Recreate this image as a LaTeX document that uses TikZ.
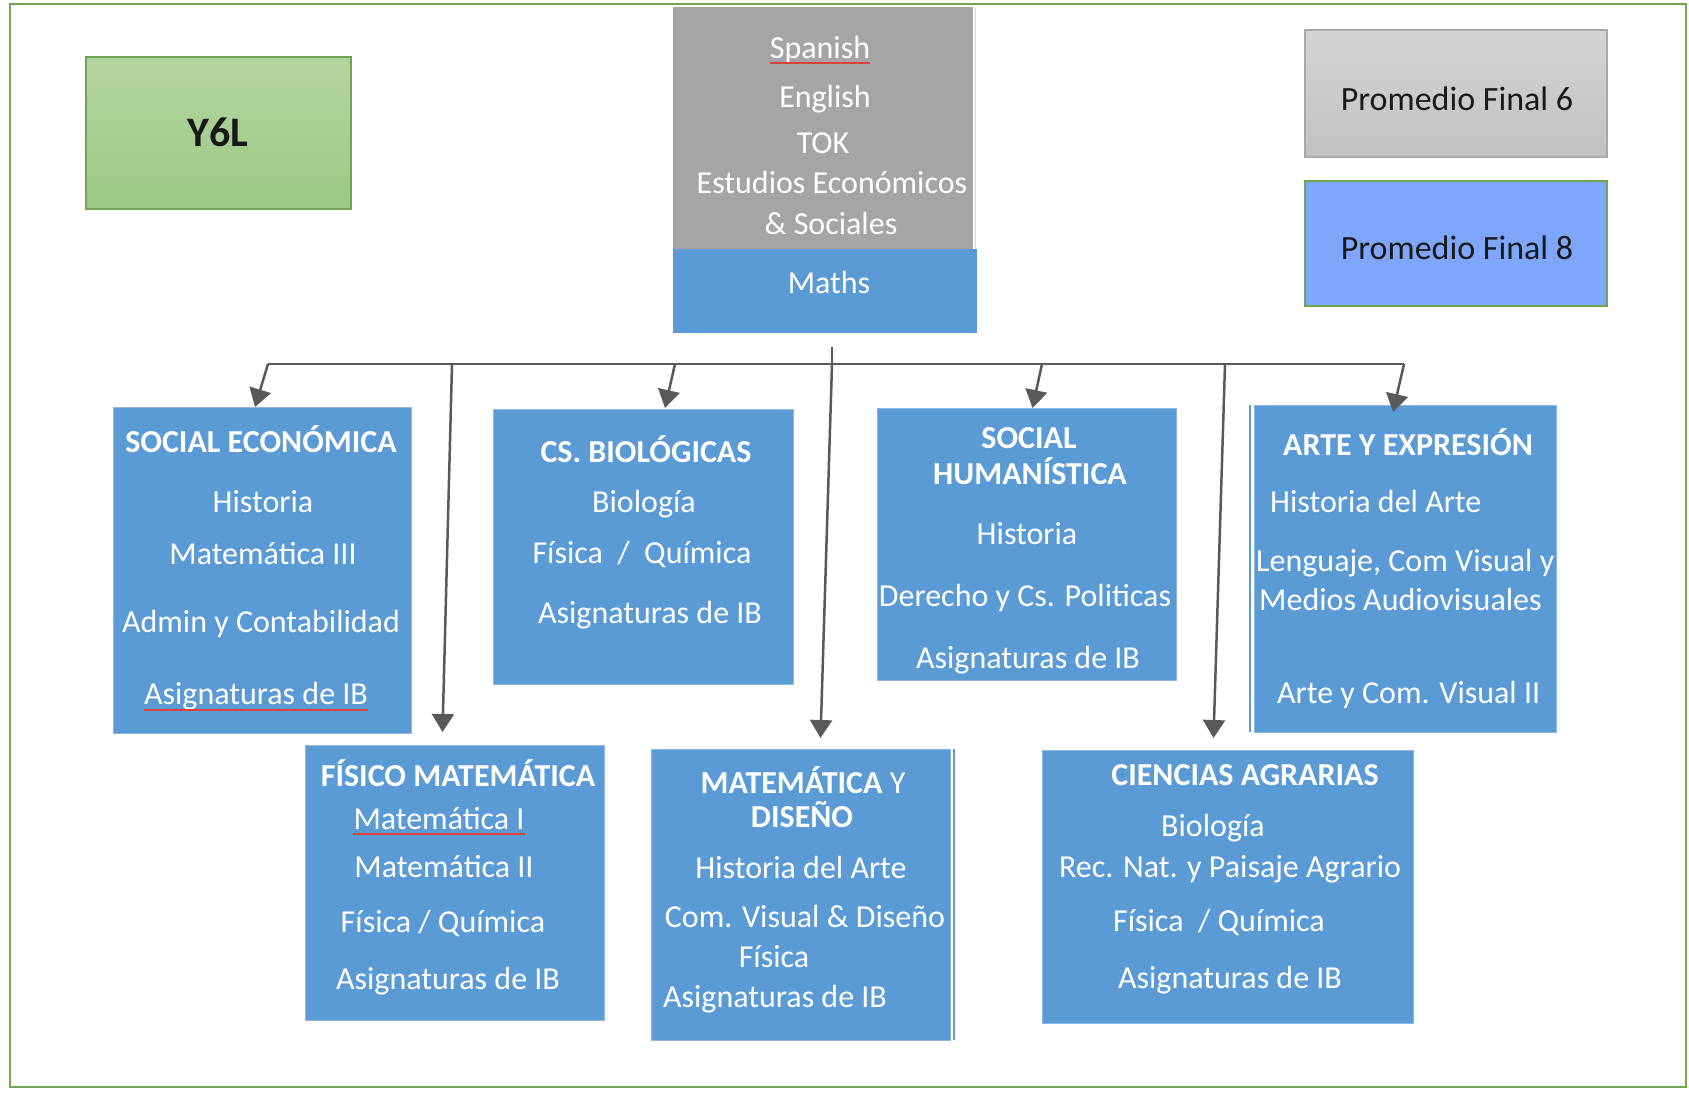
\documentclass[tikz,border=0pt]{standalone}
\usepackage{fontspec}
\setmainfont{Carlito}
\usetikzlibrary{arrows.meta,calc}

\definecolor{boxblue}{HTML}{5B9BD5}
\definecolor{coregrey}{HTML}{A5A5A5}
\definecolor{linegrey}{HTML}{595959}
\definecolor{framegreen}{HTML}{72A552}
\definecolor{avgblue}{HTML}{7EA6FA}
\definecolor{spellred}{HTML}{D9413C}
\definecolor{y6ltop}{HTML}{B4D5A1}
\definecolor{y6lbottom}{HTML}{9BCA82}

\tikzset{
  keybox/.style={rectangle, anchor=north west, inner sep=0pt, outer sep=0pt, line width=1.5pt},
  area/.style={keybox, fill=boxblue, draw=boxblue!70!white, line width=0.8pt},
  txt/.style={text=white, inner sep=0pt, anchor=base, font=\fontsize{32}{38}\selectfont},
  head/.style={txt, font=\fontsize{32}{38}\selectfont\bfseries},
  dark/.style={text=black!90, inner sep=0pt, anchor=base, font=\fontsize{34}{40}\selectfont},
  conn/.style={draw=linegrey, line width=2.5pt},
  arr/.style={conn, -{Triangle[length=18pt,width=22pt]}},
  spell/.style={draw=spellred, line width=1.5pt},
}

\begin{document}
\begin{tikzpicture}[x=1pt, y=-1pt]
\useasboundingbox (0,0) rectangle (1689,1094);

% Frame
\draw[framegreen, line width=2.2pt] (10,4) rectangle (1686,1087);

% Legend and title
\node[keybox, top color=y6ltop, bottom color=y6lbottom,
      draw=framegreen, minimum width=265pt, minimum height=152pt] (y6l) at (86,57) {};
\node[dark, font=\fontsize{42}{48}\selectfont\bfseries] (y6l-t) at (218,147) {Y6L};

\node[keybox, top color=black!17, bottom color=black!24, draw=black!34,
      minimum width=302pt, minimum height=127pt] (p6) at (1305,30) {};
\node[dark] (p6-t) at (1457,111) {Promedio Final 6};
\node[keybox, fill=avgblue, draw=framegreen, minimum width=302pt, minimum height=125pt] (p8) at (1305,181) {};
\node[dark] (p8-t) at (1457,259) {Promedio Final 8};

% Common core
\node[keybox, fill=coregrey, minimum width=300pt, minimum height=242pt] (core) at (673,7) {};
\node[keybox, fill=boxblue, minimum width=304pt, minimum height=84pt] (maths) at (673,249) {};
\draw[black!15, line width=1pt] ([xshift=2pt]core.north east) -- ([xshift=2pt]core.south east);
\foreach \x/\y/\t [count=\i] in {820/59/Spanish, 825/108/English, 823/154/TOK,
    832/194/{Estudios Económicos}, 831/235/{\& Sociales}}
  \node[txt] (core-\i) at (\x,\y) {\t};
\node[txt] (maths-t) at (829,293) {Maths};
\draw[spell] ([yshift=-4pt]core-1.base west) -- ([yshift=-4pt]core-1.base east);

% Areas
\node[area, minimum width=298pt, minimum height=326pt] (se) at (113,407) {};
\node[area, minimum width=300pt, minimum height=275pt] (cb) at (493,409) {};
\node[area, minimum width=299pt, minimum height=272pt] (sh) at (877,408) {};
\node[area, minimum width=302pt, minimum height=327pt] (ae) at (1254,405) {};
\node[area, minimum width=299pt, minimum height=275pt] (fm) at (305,745) {};
\node[area, minimum width=299pt, minimum height=291pt] (md) at (651,749) {};
\node[area, minimum width=371pt, minimum height=273pt] (ca) at (1042,750) {};
\draw[boxblue, line width=1.2pt] ([xshift=-4pt]ae.north west) -- ([xshift=-4pt]ae.south west);
\draw[boxblue, line width=1.2pt] ([xshift=4pt]md.north east) -- ([xshift=4pt]md.south east);

% Social economica
\node[head] (se-0) at (261,452) {SOCIAL ECONÓMICA};
\foreach \x/\y/\t [count=\i] in {263/512/Historia, 263/564/{Matemática III},
    261/632/{Admin y Contabilidad}, 256/704/{Asignaturas de IB}}
  \node[txt] (se-\i) at (\x,\y) {\t};
\draw[spell] ([yshift=-6pt]se-4.base west) -- ([yshift=-6pt]se-4.base east);

% Cs. biologicas
\node[head] (cb-0) at (646,462) {CS. BIOLÓGICAS};
\foreach \x/\y/\t [count=\i] in {644/512/Biología, 642/563/{Física~~/~~Química},
    650/623/{Asignaturas de IB}}
  \node[txt] (cb-\i) at (\x,\y) {\t};

% Social humanistica
\node[head] (sh-0) at (1029,448) {SOCIAL};
\node[head] (sh-00) at (1030,484) {HUMANÍSTICA};
\foreach \x/\y/\t [count=\i] in {1027/544/Historia, 1025/606/{Derecho y Cs. Politicas},
    1028/668/{Asignaturas de IB}}
  \node[txt] (sh-\i) at (\x,\y) {\t};

% Arte y expresion
\node[head] (ae-0) at (1408,455) {ARTE Y EXPRESIÓN};
\begin{scope}
  \clip (ae.north west) rectangle (ae.south east);
  \foreach \x/\y/\t [count=\i] in {1270/512/{Historia del Arte}, 1256/571/{Lenguaje, Com Visual y},
      1259/610/{Medios Audiovisuales}, 1277/703/{Arte y Com. Visual II}}
    \node[txt, anchor=base west] (ae-\i) at (\x,\y) {\t};
\end{scope}

% Fisico matematica
\node[head] (fm-0) at (458,786) {FÍSICO MATEMÁTICA};
\foreach \x/\y/\t [count=\i] in {439/829/{Matemática I}, 444/877/{Matemática II},
    443/932/{Física / Química}, 448/989/{Asignaturas de IB}}
  \node[txt] (fm-\i) at (\x,\y) {\t};
\draw[spell] ([yshift=-5pt]fm-1.base west) -- ([yshift=-5pt]fm-1.base east);

% Matematica y diseno
\node[txt] (md-0) at (803,793) {\textbf{MATEMÁTICA} Y};
\node[head] (md-00) at (802,827) {DISEÑO};
\foreach \x/\y/\t [count=\i] in {801/878/{Historia del Arte}, 805/927/{Com. Visual \& Diseño},
    774/967/Física, 775/1007/{Asignaturas de IB}}
  \node[txt] (md-\i) at (\x,\y) {\t};

% Ciencias agrarias
\node[head] (ca-0) at (1245,785) {CIENCIAS AGRARIAS};
\foreach \x/\y/\t [count=\i] in {1213/836/Biología, 1230/877/{Rec. Nat. y Paisaje Agrario},
    1219/931/{Física~~/ Química}, 1230/988/{Asignaturas de IB}}
  \node[txt] (ca-\i) at (\x,\y) {\t};

% Connectors
\coordinate (stem) at (832,347);
\coordinate (bus-se) at (268,364);
\coordinate (bus-fm) at (452,364);
\coordinate (bus-cb) at (675,364);
\coordinate (bus-md) at (832,364);
\coordinate (bus-sh) at (1042,364);
\coordinate (bus-ca) at (1225,364);
\coordinate (bus-ae) at (1404,364);
\draw[conn] (bus-se) -- (bus-ae);
\draw[conn] (stem) -- (bus-md);
\draw[arr] (bus-se) -- ($(se.north)+(-7,0)$);
\draw[arr] (bus-fm) -- ($(fm.north)+(-12,-13)$);
\draw[arr] (bus-cb) -- ($(cb.north)+(22,-1)$);
\draw[arr] (bus-md) -- ($(md.north)+(20,-11)$);
\draw[arr] (bus-sh) -- ($(sh.north)+(6,0)$);
\draw[arr] (bus-ca) -- ($(ca.north)+(-14,-12)$);
\draw[arr] (bus-ae) -- ($(ae.north)+(-12,7)$);
\end{tikzpicture}
\end{document}
